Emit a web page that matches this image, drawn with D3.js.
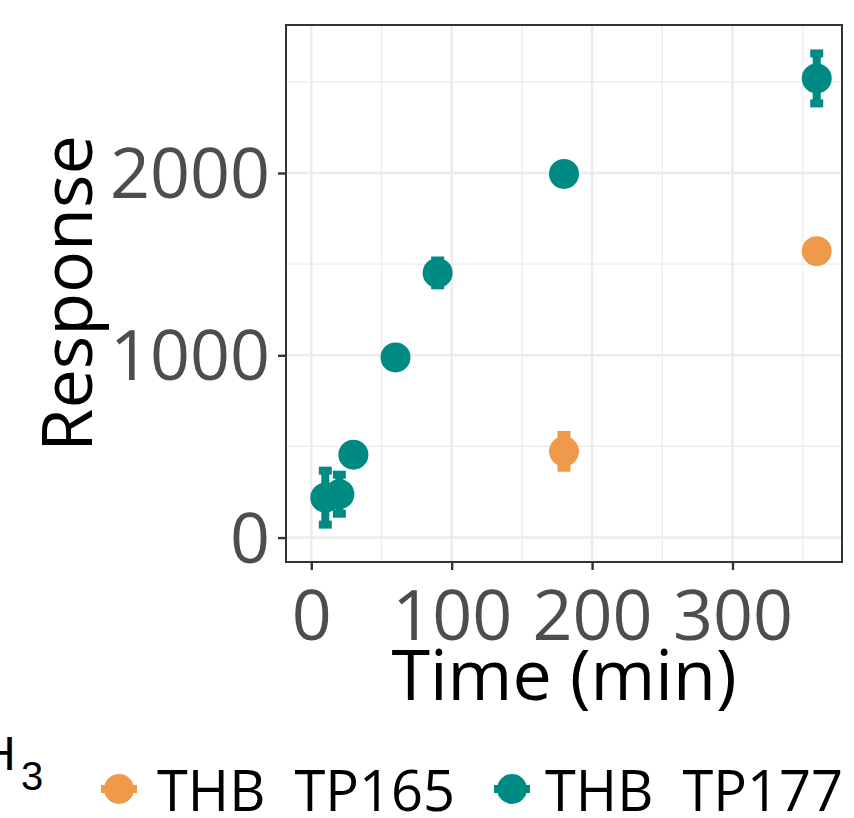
<!DOCTYPE html>
<html>
<head>
<meta charset="utf-8">
<script src="https://cdn.jsdelivr.net/npm/d3@7"></script>
<style>
  body { margin: 0; background: #fff; }
  text { font-family: "Open Sans", sans-serif; white-space: pre; }
</style>
</head>
<body>
<svg class="chart"></svg>
<script>
// values
const groups = ["THB  TP165", "THB  TP177"];
const colors = ["#ef9a4a", "#008a84"];

const timeTp165 = [180, 360];
const respTp165 = [473, 1571];
const errTp165 = [90, 25];

const timeTp177 = [10, 20, 30, 60, 90, 180, 360];
const respTp177 = [219, 238, 455, 988, 1452, 1995, 2519];
const errTp177 = [148, 107, 20, 20, 68, 25, 137];

const xTicks = [0, 100, 200, 300];
const xMinor = [50, 150, 250, 350];
const yTicks = [0, 1000, 2000];
const yMinor = [500, 1500, 2500];

const width = 854;
const height = 818;

const svg = d3.select('.chart')
  .attr('width', width)
  .attr('height', height);

const margin = {left: 286, right: 12, top: 25, bottom: 256};
const innerWidth = width - margin.left - margin.right;
const innerHeight = height - margin.top - margin.bottom;

const xScale = d3.scaleLinear().domain([-18, 378]).range([0, innerWidth]);
const yScale = d3.scaleLinear().domain([-134, 2812]).range([innerHeight, 0]);

const g = svg.append('g')
  .attr('transform', `translate(${margin.left},${margin.top})`);

// grid
g.selectAll('.xminor').data(xMinor).enter().append('line')
  .attr('x1', d => xScale(d)).attr('x2', d => xScale(d))
  .attr('y1', 0).attr('y2', innerHeight)
  .attr('stroke', '#ebebeb').attr('stroke-width', 1.2);
g.selectAll('.yminor').data(yMinor).enter().append('line')
  .attr('y1', d => yScale(d)).attr('y2', d => yScale(d))
  .attr('x1', 0).attr('x2', innerWidth)
  .attr('stroke', '#ebebeb').attr('stroke-width', 1.2);
g.selectAll('.xmajor').data(xTicks).enter().append('line')
  .attr('x1', d => xScale(d)).attr('x2', d => xScale(d))
  .attr('y1', 0).attr('y2', innerHeight)
  .attr('stroke', '#ebebeb').attr('stroke-width', 2.4);
g.selectAll('.ymajor').data(yTicks).enter().append('line')
  .attr('y1', d => yScale(d)).attr('y2', d => yScale(d))
  .attr('x1', 0).attr('x2', innerWidth)
  .attr('stroke', '#ebebeb').attr('stroke-width', 2.4);

// axes
const xaxis = d3.axisBottom(xScale).tickValues(xTicks).tickFormat(d3.format('d')).tickSize(8).tickPadding(10);
const yaxis = d3.axisLeft(yScale).tickValues(yTicks).tickFormat(d3.format('d')).tickSize(8).tickPadding(8);

const gx = g.append('g').attr('transform', `translate(0,${innerHeight})`).call(xaxis);
const gy = g.append('g').call(yaxis);
[gx, gy].forEach(a => {
  a.select('.domain').remove();
  a.selectAll('line').attr('stroke', '#333').attr('stroke-width', 2.4);
  a.selectAll('text').attr('fill', '#4d4d4d')
    .style('font-size', '70px').style('font-family', '"Open Sans", sans-serif');
});
gx.selectAll('text').attr('dy', null).attr('y', 78);
gy.selectAll('text').attr('dy', '0.35em');

// panel border
g.append('rect')
  .attr('width', innerWidth).attr('height', innerHeight)
  .attr('fill', 'none').attr('stroke', '#333').attr('stroke-width', 2);

// data
const series = [
  {name: groups[0], color: colors[0], pts: timeTp165.map((t, i) => ({t, v: respTp165[i], e: errTp165[i]}))},
  {name: groups[1], color: colors[1], pts: timeTp177.map((t, i) => ({t, v: respTp177[i], e: errTp177[i]}))}
];

series.forEach(s => {
  const sg = g.append('g');
  sg.selectAll('.stem').data(s.pts).enter().append('line')
    .attr('x1', d => xScale(d.t)).attr('x2', d => xScale(d.t))
    .attr('y1', d => yScale(d.v - d.e)).attr('y2', d => yScale(d.v + d.e))
    .attr('stroke', s.color).attr('stroke-width', 8);
  [-1, 1].forEach(sign => {
    sg.selectAll('.cap' + sign).data(s.pts).enter().append('line')
      .attr('x1', d => xScale(d.t) - 2.5).attr('x2', d => xScale(d.t) + 2.5)
      .attr('y1', d => yScale(d.v + sign * d.e)).attr('y2', d => yScale(d.v + sign * d.e))
      .attr('stroke', s.color).attr('stroke-width', 8).attr('stroke-linecap', 'square');
  });
  sg.selectAll('circle').data(s.pts).enter().append('circle')
    .attr('cx', d => xScale(d.t)).attr('cy', d => yScale(d.v))
    .attr('r', 15).attr('fill', s.color);
});

// axis titles
svg.append('text')
  .attr('x', margin.left + xScale(180)).attr('y', 700)
  .attr('text-anchor', 'middle')
  .style('font-size', '70px').attr('fill', '#000')
  .text('Time (min)');
svg.append('text')
  .attr('transform', `translate(92,${margin.top + innerHeight / 2}) rotate(-90)`)
  .attr('text-anchor', 'middle')
  .style('font-size', '70px').attr('fill', '#000')
  .text('Response');

// legend (title is cut off at the left edge)
svg.append('text').attr('x', -19).attr('y', 770)
  .style('font-family', '"Liberation Sans", Arial, sans-serif').style('font-size', '48px')
  .attr('fill', '#000').text('H');
svg.append('text').attr('x', 21).attr('y', 790)
  .style('font-family', '"Liberation Sans", Arial, sans-serif').style('font-size', '40px')
  .attr('fill', '#000').text('3');

const legendX = [119, 512];
const legendTextX = [157, 545];
series.forEach((s, i) => {
  const lg = svg.append('g').attr('transform', `translate(${legendX[i]},789)`);
  lg.append('rect').attr('x', -18).attr('y', -4).attr('width', 36).attr('height', 8).attr('fill', s.color);
  lg.append('circle').attr('r', 15).attr('fill', s.color);
  svg.append('text').attr('x', legendTextX[i]).attr('y', 811)
    .style('font-size', '56px').attr('fill', '#000')
    .text(s.name);
});
</script>
</body>
</html>
